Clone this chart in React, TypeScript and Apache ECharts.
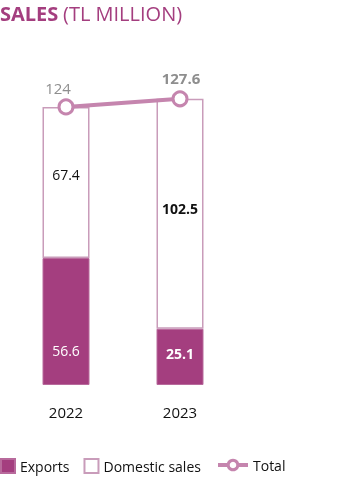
import React, { useEffect, useRef } from "react";
import * as echarts from "echarts";

const years = ["2022", "2023"];
const exportsVals = [56.6, 25.1];
const domesticVals = [67.4, 102.5];
const totalVals = [124, 127.6];

const PURPLE = "#a43e7f";
const PINK = "#c585ae";
const FONT = "Open Sans";

export default function App() {
  const ref = useRef<HTMLDivElement>(null);
  useEffect(() => {
    const chart = echarts.init(ref.current!, undefined, { renderer: "svg" });
    chart.setOption({
      animation: false,
      textStyle: { fontFamily: FONT },
      title: {
        text: "{b|SALES} {r|(TL MILLION)}",
        left: -5,
        top: -2,
        textStyle: {
          fontWeight: "normal",
          rich: {
            b: { fontFamily: FONT, fontWeight: "bold", fontSize: 20, color: PURPLE },
            r: { fontFamily: FONT, fontWeight: "normal", fontSize: 20, color: PURPLE },
          },
        },
      },
      grid: { left: 9, width: 228, top: 71, bottom: 106, containLabel: false },
      xAxis: {
        type: "category",
        data: years,
        axisLine: { show: false },
        axisTick: { show: false },
        axisLabel: { color: "#111", fontSize: 15, fontFamily: FONT, margin: 19 },
      },
      yAxis: { type: "value", min: 0, max: 140, show: false, splitLine: { show: false } },
      legend: [
        {
          data: [
            { name: "Exports", icon: "rect" },
            { name: "Domestic sales", icon: "rect" },
          ],
          left: -5,
          top: 453,
          itemWidth: 14,
          itemHeight: 14,
          itemGap: 14,
          textStyle: { fontSize: 14, color: "#111", fontFamily: FONT },
        },
        {
          data: ["Total"],
          left: 211,
          top: 453,
          itemWidth: 30,
          itemHeight: 12,
          lineStyle: { width: 4 },
          itemStyle: { borderWidth: 3 },
          textStyle: { fontSize: 14, color: "#111", fontFamily: FONT },
        },
      ],
      series: [
        {
          name: "Exports",
          type: "bar",
          stack: "s",
          barWidth: 47,
          data: exportsVals.map((v, i) => ({
            value: v,
            label: {
              offset: [0, i === 0 ? 29 : -3],
              fontWeight: i === 1 ? "bold" : "normal",
            },
          })),
          itemStyle: { color: PURPLE, borderColor: "#b86a9c", borderWidth: 1 },
          label: { show: true, position: "inside", color: "#fff", fontSize: 14, fontFamily: FONT },
        },
        {
          name: "Domestic sales",
          type: "bar",
          stack: "s",
          barWidth: 47,
          data: domesticVals.map((v, i) => ({
            value: v,
            label: {
              offset: [0, i === 0 ? -8 : -5],
              fontWeight: i === 1 ? "bold" : "normal",
            },
          })),
          itemStyle: { color: "#fff", borderColor: "#c99cba", borderWidth: 1.5 },
          label: { show: true, position: "inside", color: "#111", fontSize: 14, fontFamily: FONT },
        },
        {
          name: "Total",
          type: "line",
          data: totalVals.map((v, i) => ({
            value: v,
            label: {
              offset: i === 0 ? [-8, 2] : [1, 0],
              fontWeight: i === 1 ? "bold" : "normal",
            },
          })),
          symbol: "circle",
          symbolSize: 14,
          lineStyle: { color: PINK, width: 4 },
          itemStyle: { color: "#fff", borderColor: PINK, borderWidth: 3 },
          label: {
            show: true,
            position: "top",
            distance: 5,
            color: "#8e8e8e",
            fontSize: 15,
            fontFamily: FONT,
          },
          z: 5,
        },
      ],
    });
    return () => chart.dispose();
  }, []);
  return (
    <div
      ref={ref}
      style={{ position: "fixed", left: 0, top: 0, width: 355, height: 491 }}
    />
  );
}
